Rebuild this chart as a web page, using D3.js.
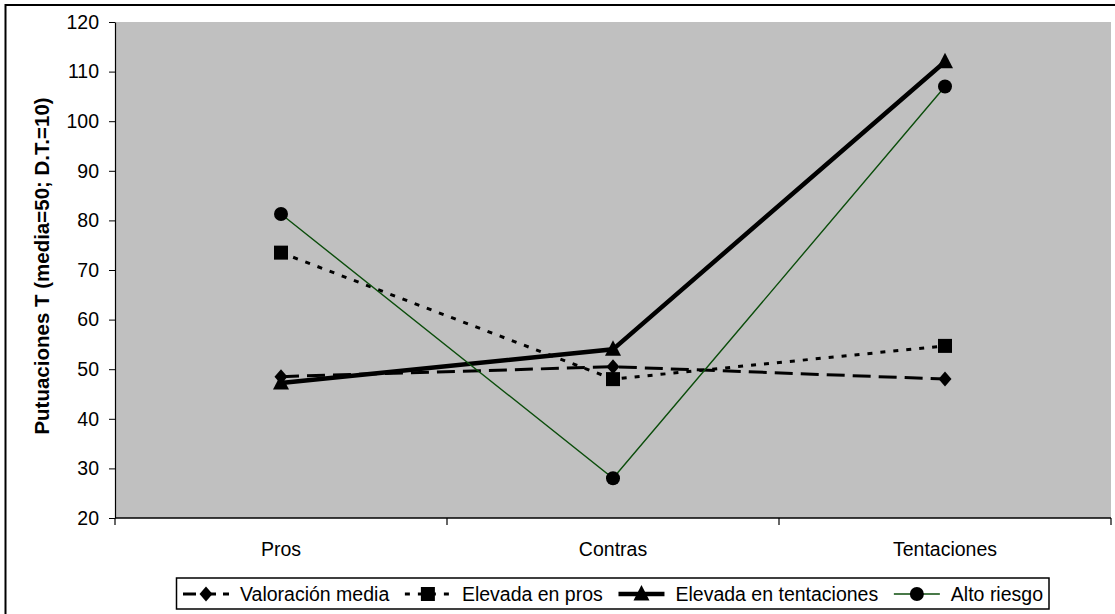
<!DOCTYPE html>
<html>
<head>
<meta charset="utf-8">
<script src="https://cdn.jsdelivr.net/npm/d3@7"></script>
<style>
  html, body { margin: 0; padding: 0; background: #fff; }
  svg { display: block; font-family: "Liberation Sans", Arial, sans-serif; }
</style>
</head>
<body>
<svg id="chart" width="1115" height="614"></svg>
<script>
// Categories and T-scores for each profile
const categories = ["Pros", "Contras", "Tentaciones"];
const valoracionMedia = [48.5, 50.5, 48];
const elevadaPros = [73.5, 48, 54.7];
const elevadaTentaciones = [47.2, 54, 112];
const altoRiesgo = [81.3, 28, 107];
const yTicks = [20, 30, 40, 50, 60, 70, 80, 90, 100, 110, 120];

const series = [
  { name: "Valoración media", values: valoracionMedia, color: "#000", width: 3, dash: "18,8", legendDash: "13,7", marker: "diamond" },
  { name: "Elevada en pros", values: elevadaPros, color: "#000", width: 3, dash: "5,8", legendDash: "5,8", marker: "square" },
  { name: "Elevada en tentaciones", values: elevadaTentaciones, color: "#000", width: 4.5, dash: null, legendDash: null, marker: "triangle" },
  { name: "Alto riesgo", values: altoRiesgo, color: "#0b4d0b", width: 1.4, dash: null, legendDash: null, marker: "circle" }
];

const svg = d3.select("#chart");
const plot = { left: 115, top: 22, right: 1111, bottom: 518 };
const FONT = 19.5;

// Outer frame (only its left and top edges fall inside the canvas)
svg.append("rect").attr("x", 5.5).attr("y", 5).attr("width", 1200).attr("height", 700)
  .attr("fill", "none").attr("stroke", "#000").attr("stroke-width", 2);

const x = d3.scaleBand().domain(categories).range([plot.left, plot.right]).padding(0);
const y = d3.scaleLinear().domain([20, 120]).range([plot.bottom, plot.top]);

// Plot area
svg.append("rect").attr("x", plot.left).attr("y", plot.top)
  .attr("width", plot.right - plot.left).attr("height", plot.bottom - plot.top)
  .attr("fill", "#c0c0c0");

// Y axis
const yAxis = svg.append("g").attr("transform", `translate(${plot.left},0)`)
  .call(d3.axisLeft(y).tickValues(yTicks).tickSize(6).tickPadding(10).tickSizeOuter(0));
yAxis.select(".domain").attr("stroke", "#000").attr("stroke-width", 1.2);
yAxis.selectAll(".tick line").attr("stroke", "#000");
yAxis.selectAll("text").attr("font-size", FONT).attr("fill", "#000")
  .attr("font-family", "Liberation Sans, Arial, sans-serif");

// X axis: ticks sit on the category boundaries
const xAxis = svg.append("g").attr("transform", `translate(0,${plot.bottom})`);
xAxis.append("line").attr("x1", plot.left).attr("x2", plot.right)
  .attr("stroke", "#000").attr("stroke-width", 1.5);
const boundaries = categories.map(c => x(c)).concat([x(categories[categories.length - 1]) + x.bandwidth()]);
xAxis.selectAll("line.tk").data(boundaries).join("line").attr("class", "tk")
  .attr("x1", d => d).attr("x2", d => d).attr("y1", 0).attr("y2", 7)
  .attr("stroke", "#000").attr("stroke-width", 1.2);
xAxis.selectAll("text").data(categories).join("text")
  .attr("x", d => x(d) + x.bandwidth() / 2).attr("y", 38)
  .attr("text-anchor", "middle").attr("font-size", FONT).attr("fill", "#000")
  .text(d => d);

// Y axis title
svg.append("text")
  .attr("transform", `translate(49,266) rotate(-90)`)
  .attr("text-anchor", "middle").attr("font-size", 20.5).attr("font-weight", "bold")
  .text("Putuaciones T (media=50; D.T.=10)");

// Marker shapes
function marker(g, type, cx, cy) {
  if (type === "diamond") {
    g.append("path").attr("d", `M${cx},${cy - 7.5}L${cx + 6.5},${cy}L${cx},${cy + 7.5}L${cx - 6.5},${cy}Z`).attr("fill", "#000");
  } else if (type === "square") {
    g.append("rect").attr("x", cx - 7).attr("y", cy - 7).attr("width", 14).attr("height", 14).attr("fill", "#000");
  } else if (type === "triangle") {
    g.append("path").attr("d", `M${cx},${cy - 9}L${cx + 8},${cy + 6.5}L${cx - 8},${cy + 6.5}Z`).attr("fill", "#000");
  } else {
    g.append("circle").attr("cx", cx).attr("cy", cy).attr("r", 7).attr("fill", "#000");
  }
}

const cx = c => x(c) + x.bandwidth() / 2;
const line = d3.line().x(d => cx(d.c)).y(d => y(d.v));

series.forEach(s => {
  const pts = categories.map((c, i) => ({ c, v: s.values[i] }));
  const g = svg.append("g");
  g.append("path").datum(pts).attr("d", line)
    .attr("fill", "none").attr("stroke", s.color).attr("stroke-width", s.width)
    .attr("stroke-dasharray", s.dash);
  pts.forEach(p => marker(g, s.marker, cx(p.c), y(p.v)));
});

// Legend: sample, label, laid out in one row across the box
const legend = svg.append("g");
const box = { x: 176.5, y: 578, w: 872.5, h: 31 };
legend.append("rect").attr("x", box.x).attr("y", box.y).attr("width", box.w).attr("height", box.h)
  .attr("fill", "#fff").attr("stroke", "#000").attr("stroke-width", 1.5);
const ly = box.y + box.h / 2 + 0.5;
const sampleW = 46, textGap = 11;
const labels = series.map(s => legend.append("text").attr("y", ly + 7).attr("font-size", FONT).text(s.name));
const widths = labels.map(t => t.node().getComputedTextLength());
const startX = box.x + 6.5, endX = box.x + box.w - 6;
const used = series.length * (sampleW + textGap) + d3.sum(widths);
const between = (endX - startX - used) / (series.length - 1);
let px = startX;
series.forEach((s, i) => {
  legend.append("line").attr("x1", px).attr("x2", px + sampleW).attr("y1", ly).attr("y2", ly)
    .attr("stroke", s.color).attr("stroke-width", s.width)
    .attr("stroke-dasharray", s.legendDash);
  marker(legend, s.marker, px + sampleW / 2, ly);
  labels[i].attr("x", px + sampleW + textGap).raise();
  px += sampleW + textGap + widths[i] + between;
});
</script>
</body>
</html>
